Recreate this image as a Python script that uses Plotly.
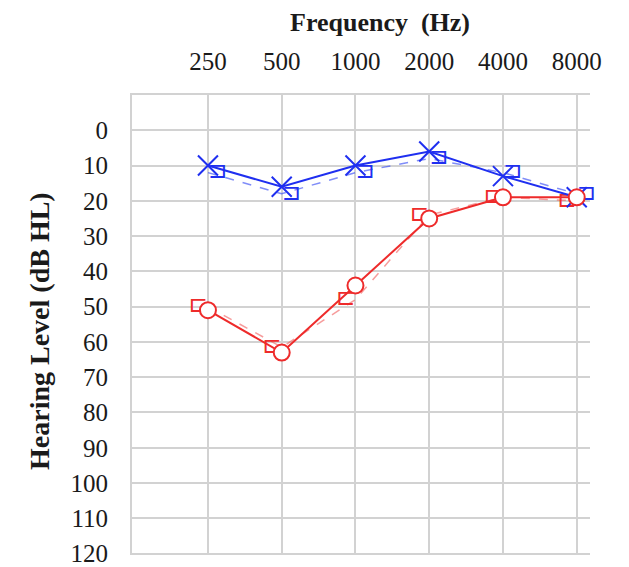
import plotly.graph_objects as go

freqs = ["250", "500", "1000", "2000", "4000", "8000"]
left_air = [10, 16, 10, 6, 13, 19]        # blue X
left_bone = [12, 18, 12, 8, 12, 18]       # blue ]
right_air = [51, 63, 44, 25, 19, 19]      # red O
right_bone = [50, 61.5, 48, 24, 19, 20]   # red [
y_ticks = list(range(0, 121, 10))

BLUE = "#1f2ff0"
RED = "#ee2b2b"
FONT = "Liberation Serif"

fig = go.Figure()

fig.add_trace(go.Scatter(
    x=freqs, y=left_bone, mode="lines+text", text=["⊐"] * len(freqs),
    textposition="middle right",
    textfont=dict(family="DejaVu Sans", size=23, color=BLUE),
    line=dict(color="rgba(60,80,245,0.65)", width=1.5, dash="dash"),
    showlegend=False, cliponaxis=False))
fig.add_trace(go.Scatter(
    x=freqs, y=right_bone, mode="lines+text", text=["⊏"] * len(freqs),
    textposition="middle left",
    textfont=dict(family="DejaVu Sans", size=23, color=RED),
    line=dict(color="rgba(240,90,90,0.6)", width=1.5, dash="dash"),
    showlegend=False, cliponaxis=False))
fig.add_trace(go.Scatter(
    x=freqs, y=left_air, mode="lines+markers",
    line=dict(color=BLUE, width=2),
    marker=dict(symbol="x-thin-open", size=20, line=dict(color=BLUE, width=2)),
    showlegend=False, cliponaxis=False))
fig.add_trace(go.Scatter(
    x=freqs, y=right_air, mode="lines+markers",
    line=dict(color=RED, width=2),
    marker=dict(symbol="circle", size=16, color="white", line=dict(color=RED, width=2)),
    showlegend=False, cliponaxis=False))

fig.update_layout(
    width=621, height=559,
    margin=dict(l=124, r=39, t=87, b=12),
    paper_bgcolor="white", plot_bgcolor="white",
    font=dict(family=FONT, color="#1a1a1a"),
    xaxis=dict(
        type="category", side="top", range=[-1.03, 5.18],
        showgrid=True, gridcolor="#d2d2d2", gridwidth=2,
        showline=True, linecolor="#d2d2d2", linewidth=2,
        ticks="", ticklabelstandoff=13, automargin=False,
        tickfont=dict(family=FONT, size=25, color="#1a1a1a"),
        zeroline=False),
    yaxis=dict(
        range=[120.4, -10], tickvals=y_ticks,
        showgrid=True, gridcolor="#d2d2d2", gridwidth=2,
        showline=True, linecolor="#d2d2d2", linewidth=2,
        ticks="", ticklabelstandoff=17, automargin=False,
        ticklabeloverflow="allow",
        tickfont=dict(family=FONT, size=25, color="#1a1a1a"),
        zeroline=False),
    annotations=[
        dict(text="<b>Frequency  (Hz)</b>", xref="paper", yref="paper",
             x=0.541, y=1.0, yshift=73, xanchor="center", yanchor="middle",
             showarrow=False,
             font=dict(family=FONT, size=26, color="#1a1a1a")),
        dict(text="<b>Hearing Level (dB HL)</b>", xref="paper", yref="paper",
             x=0, xshift=-92, y=0.487, xanchor="center", yanchor="middle",
             textangle=-90, showarrow=False,
             font=dict(family=FONT, size=28, color="#1a1a1a")),
    ],
)

fig.write_html("out.html")
